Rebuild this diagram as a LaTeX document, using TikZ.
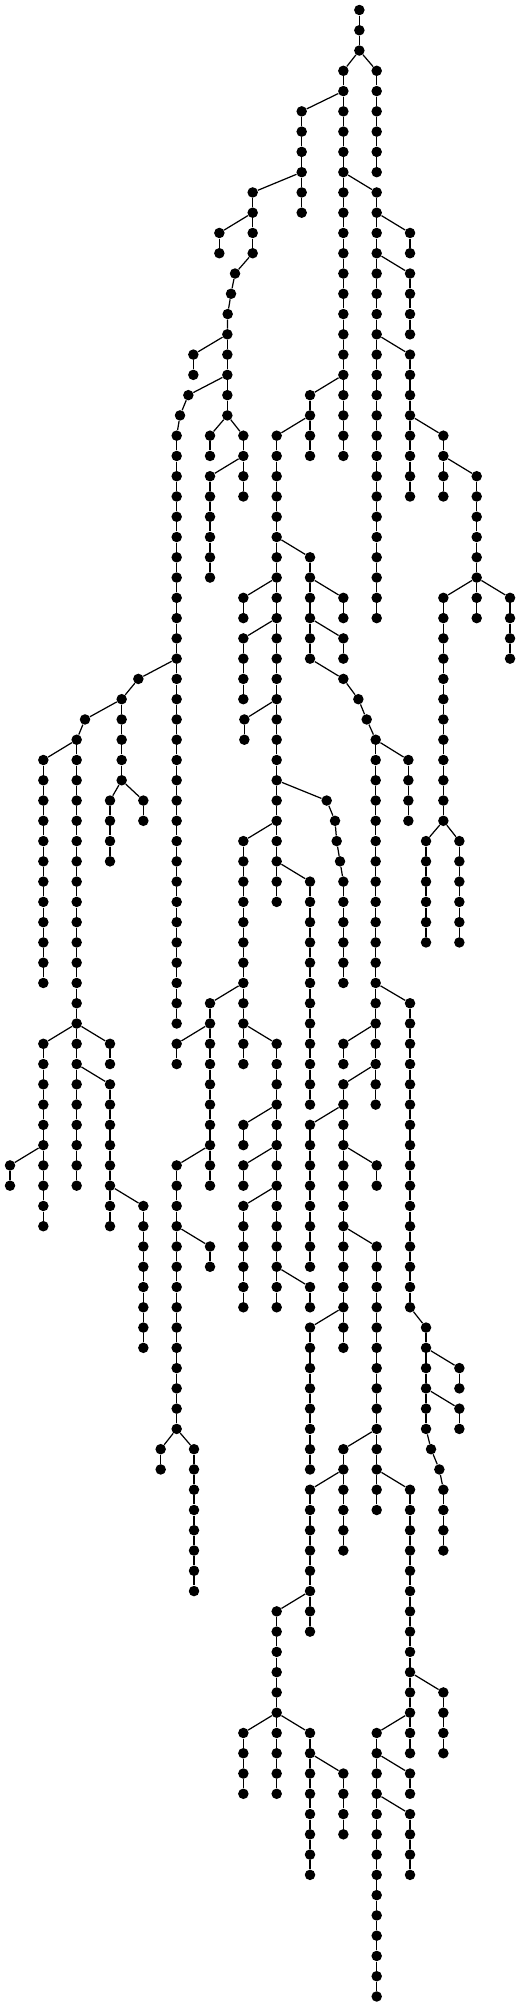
\documentclass[tikz,border=0pt]{standalone}
\usepackage{tikz}
\usetikzlibrary{positioning}
\tikzstyle{treenode} = [circle, fill=black, draw=none, inner sep=0pt, minimum size=0.21cm]
\tikzstyle{treeedge} = [draw=black, line width=0.7pt]

\begin{document}
\begin{tikzpicture}[x=0.6667cm, y=-0.4054cm]
  \useasboundingbox (-0.3,-0.4934) rectangle (15.3,98.47);
  \node[treenode] (root) at (10.48,0) {};
  % branch name / parent node / column / first level / last level
  \foreach \nm/\up/\cx/\from/\to in {
      b1/root/10.48/1/2, b2/b1-2/10/3/22, b3/b1-2/11/3/8,
      b4/b2-4/8.75/5/10, b5/b4-8/7.28/9/12, b6/b5-10/6.28/11/12,
      b7/b5-12/6.75/13/13, b8/b7-13/6.63/14/14, b9/b8-14/6.53/15/15,
      b10/b9-15/6.52/16/20, b11/b10-16/5.5/17/18, b12/b10-18/5.35/19/19,
      b13/b12-19/5.1/20/20, b14/b13-20/5/21/50, b15/b10-20/6/21/22,
      b16/b10-20/7/21/24, b17/b16-22/6/23/28,
      b18/b2-8/11/9/30, b19/b18-10/12/11/12, b20/b18-12/12/13/16,
      b21/b18-16/12/17/24, b22/b21-20/13/21/24, b23/b22-22/14/23/28,
      b24/b23-28/13/29/40, b25/b23-28/14/29/30, b26/b23-28/15/29/32,
      b27/b2-18/9/19/22, b28/b27-20/8/21/44, b29/b28-26/9/27/32,
      b30/b28-28/7/29/30, b31/b29-28/10/29/30, b32/b28-30/7/31/34,
      b33/b29-30/10/31/32, b34/b29-32/10/33/33, b35/b34-33/10.45/34/34,
      b36/b35-34/10.7/35/35, b37/b36-35/10.97/36/54, b39/b37-36/11.95/37/40,
      b40/b24-40/12.48/41/46, b41/b24-40/13.48/41/46,
      b42/b14-32/3.85/33/33, b43/b42-33/3.35/34/38, b44/b43-34/2.25/35/35,
      b45/b44-35/2/36/58, b46/b45-36/1/37/48, b47/b43-38/3/39/42,
      b48/b43-38/4/39/40, b49/b28-34/7.03/35/36,
      b50/b28-38/9.5/39/39, b51/b50-39/9.75/40/40, b52/b51-40/9.8/41/41,
      b53/b52-41/9.9/42/42, b54/b53-42/10/43/48,
      b55/b28-40/7/41/52, b56/b28-42/9/43/54,
      b57/b45-50/1/51/60, b58/b45-50/3/51/52, b59/b57-56/0/57/58,
      b60/b45-52/3/53/60, b61/b60-58/4/59/66,
      b62/b55-48/6/49/58, b63/b62-50/5/51/52, b64/b62-56/5/57/70,
      b65/b64-60/6/61/62, b66/b64-70/4.52/71/72, b67/b64-70/5.52/71/78,
      b68/b55-50/8/51/64, b69/b68-54/7/55/56, b70/b68-56/7/57/58,
      b71/b68-58/7/59/64, b72/b68-62/9/63/64,
      b73/b37-48/12/49/64, b74/b37-50/10/51/52, b75/b37-52/10/53/66,
      b76/b75-54/9/55/62, b77/b75-56/11/57/58, b78/b75-60/11/61/74,
      b79/b75-64/9/65/72, b80/b73-64/12.48/65/70,
      b81/b80-66/13.48/67/68, b82/b80-68/13.48/69/70,
      b83/b80-70/12.63/71/71, b84/b83-71/12.88/72/72, b85/b84-72/13/73/76,
      b86/b78-70/10/71/76, b87/b78-72/12/73/86, b88/b86-72/9/73/80,
      b89/b88-78/8/79/84, b90/b89-84/7/85/88, b91/b89-84/8/85/88,
      b92/b89-84/9/85/92, b93/b92-86/10/87/90, b94/b87-82/13/83/86,
      b95/b87-84/11/85/98, b96/b95-86/12/87/88, b97/b95-88/12/89/92}{
    \node[treenode] (\nm-\from) at (\cx,\from) {};
    \draw[treeedge] (\up) -- (\nm-\from);
    \foreach \l [remember=\l as \prev (initially \from)] in {\from,...,\to}{
      \ifnum\l>\from
        \node[treenode] (\nm-\l) at (\cx,\l) {};
        \draw[treeedge] (\nm-\prev) -- (\nm-\l);
      \fi
    }
  }
\end{tikzpicture}
\end{document}
